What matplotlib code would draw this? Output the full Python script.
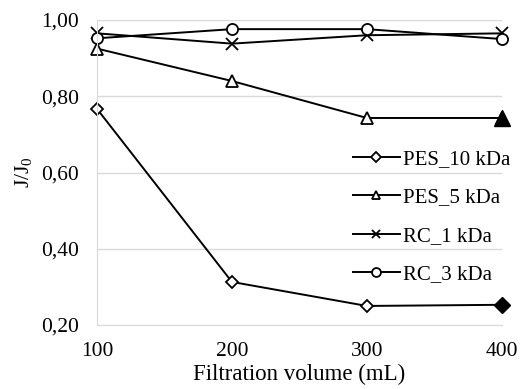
import matplotlib
matplotlib.use("Agg")
import matplotlib.pyplot as plt
from matplotlib.ticker import FuncFormatter

volume = [100, 200, 300, 400]
pes_10 = [0.767, 0.313, 0.250, 0.253]
pes_5 = [0.925, 0.840, 0.743, 0.743]
rc_1 = [0.965, 0.938, 0.960, 0.965]
rc_3 = [0.952, 0.976, 0.976, 0.950]
labels = ["PES_10 kDa", "PES_5 kDa", "RC_1 kDa", "RC_3 kDa"]
y_ticks = [0.2, 0.4, 0.6, 0.8, 1.0]

plt.rcParams['font.family'] = ['Liberation Serif', 'DejaVu Serif']
plt.rcParams['font.size'] = 15.5

fig = plt.figure(figsize=(5.2, 3.89), dpi=100)
ax = fig.add_axes([0.1865, 0.1645, 0.7785, 0.7841])

style = dict(color="black", lw=1.4, markerfacecolor="white",
             markeredgecolor="black", markeredgewidth=1.3, clip_on=False)
ax.plot(volume, pes_10, marker="D", markersize=6, label=labels[0], **style)
ax.plot(volume, pes_5, marker="^", markersize=8, label=labels[1], **style)
ax.plot(volume, rc_1, marker="x", markersize=8, label=labels[2], **style)
ax.plot(volume, rc_3, marker="o", markersize=8, label=labels[3], **style)

# last points of the PES series drawn filled
ax.plot(volume[-1], pes_10[-1], marker="D", markersize=8, color="black",
        zorder=5, clip_on=False)
ax.plot(volume[-1], pes_5[-1], marker="^", markersize=12, color="black",
        zorder=5, clip_on=False)

ax.set_xlim(100, 400)
ax.set_ylim(0.2, 1.0)
ax.set_xticks(volume)
ax.set_yticks(y_ticks)
ax.yaxis.set_major_formatter(FuncFormatter(lambda v, p: f"{v:.2f}".replace(".", ",")))
ax.tick_params(axis="x", length=0, pad=12)
ax.tick_params(axis="y", length=0, pad=13)
ax.grid(axis="y", color="#d9d9d9", lw=1)
ax.set_axisbelow(True)
for s in ["top", "right"]:
    ax.spines[s].set_visible(False)
for s in ["left", "bottom"]:
    ax.spines[s].set_color("#d9d9d9")

ax.set_xlabel("Filtration volume (mL)", fontsize=16.5, labelpad=2)
ax.set_ylabel("J/J$_\\mathregular{0}$", fontsize=15.5, labelpad=4)

ax.legend(loc="upper left", bbox_to_anchor=(0.632, 0.575), frameon=False,
          fontsize=15, handlelength=2.25, handletextpad=0.15,
          labelspacing=0.9, borderaxespad=0, borderpad=0, markerscale=0.8)

fig.savefig("out.png", dpi=100)
